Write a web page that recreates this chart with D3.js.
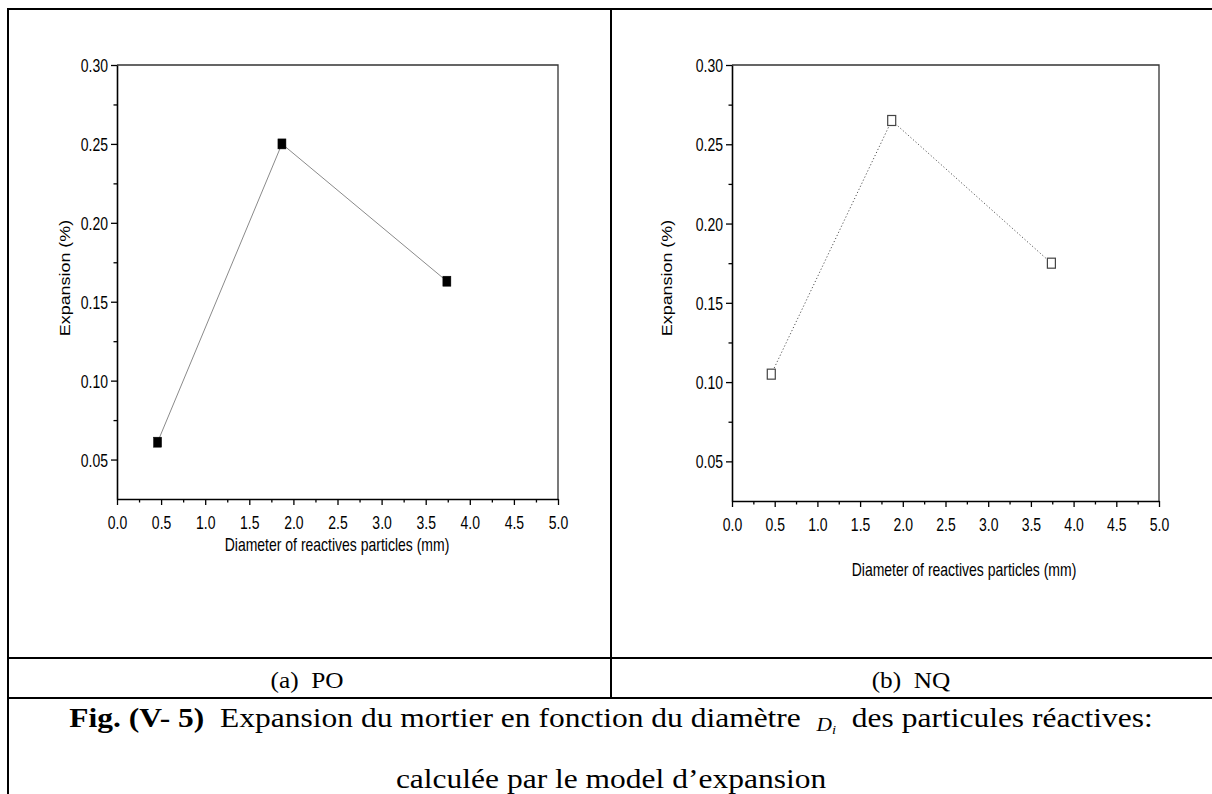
<!DOCTYPE html>
<html>
<head>
<meta charset="utf-8">
<script src="https://cdn.jsdelivr.net/npm/d3@7"></script>
<style>
  html, body { margin: 0; padding: 0; background: #fff; }
  svg { display: block; }
  text { white-space: pre; }
</style>
</head>
<body>
<svg id="fig" width="1212" height="794"></svg>
<script>
// Particle diameter (mm) and computed mortar expansion (%)
const diameters = [0.46, 1.87, 3.74];
const expansionPO = [0.061, 0.250, 0.163];
const expansionNQ = [0.105, 0.265, 0.175];

// Axis settings and tick labels
const xDomain = [0, 5];
const yDomain = [0.025, 0.30];
const xTickValues = [0.0, 0.5, 1.0, 1.5, 2.0, 2.5, 3.0, 3.5, 4.0, 4.5, 5.0];
const xMinorTicks = [0.25, 0.75, 1.25, 1.75, 2.25, 2.75, 3.25, 3.75, 4.25, 4.75];
const yTickValues = [0.05, 0.10, 0.15, 0.20, 0.25, 0.30];
const yMinorTicks = [0.075, 0.125, 0.175, 0.225, 0.275];
const xAxisTitle = "Diameter of reactives particles (mm)";
const yAxisTitle = "Expansion (%)";
const panelLabels = ["(a)  PO", "(b)  NQ"];
const captionBold = "Fig. (V- 5)";
const captionText = "  Expansion du mortier en fonction du diamètre  ";
const captionTail = "  des particules réactives:";
const captionLine2 = "calculée par le model d\u2019expansion";

const svg = d3.select("#fig");
const SANS = "'Liberation Sans', Arial, sans-serif";
const SERIF = "'Liberation Serif', 'Times New Roman', serif";
const STRETCH = 1.28;   // plot lettering is drawn slightly tall
const CAP_WIDEN = 1.125;

// Table frame
const frame = svg.append("g").attr("stroke", "#000").attr("stroke-width", 2).attr("fill", "none");
frame.append("line").attr("x1", 7).attr("x2", 1212).attr("y1", 9).attr("y2", 9);
frame.append("line").attr("x1", 8).attr("x2", 8).attr("y1", 8).attr("y2", 794);
frame.append("line").attr("x1", 611).attr("x2", 611).attr("y1", 9).attr("y2", 698);
frame.append("line").attr("x1", 8).attr("x2", 1212).attr("y1", 658).attr("y2", 658);
frame.append("line").attr("x1", 8).attr("x2", 1212).attr("y1", 698).attr("y2", 698);

function stretchedText(g, x, y, str, rotate) {
  const t = rotate
    ? `translate(${x},${y}) rotate(-90) scale(${STRETCH},1)`
    : `translate(${x},${y}) scale(1,${STRETCH})`;
  return g.append("text")
    .attr("transform", t)
    .attr("dy", "0.36em")
    .attr("text-anchor", "middle")
    .attr("font-family", SANS)
    .attr("font-size", 14)
    .attr("fill", "#000")
    .text(str);
}

const panels = [
  { values: expansionPO, box: { left: 117, right: 558, top: 65, bottom: 499 },
    xTitle: [337, 545], yTitle: [65, 278], filled: true, dash: null, lineColor: "#8a8a8a" },
  { values: expansionNQ, box: { left: 732, right: 1159, top: 65, bottom: 501 },
    xTitle: [964, 570], yTitle: [667, 278], filled: false, dash: "1.2,2.2", lineColor: "#555" }
];

panels.forEach(p => {
  const b = p.box;
  const x = d3.scaleLinear().domain(xDomain).range([b.left, b.right]);
  const y = d3.scaleLinear().domain(yDomain).range([b.bottom, b.top]);
  const g = svg.append("g");

  // top and right frame edges
  g.append("path")
    .attr("d", `M${b.left},${b.top}H${b.right}V${b.bottom}`)
    .attr("fill", "none").attr("stroke", "#333").attr("stroke-width", 1.3);

  // minor ticks
  g.append("g").attr("transform", `translate(0,${b.bottom})`)
    .call(d3.axisBottom(x).tickValues(xMinorTicks).tickSize(3.5).tickFormat(""))
    .call(a => a.select(".domain").remove());
  g.append("g").attr("transform", `translate(${b.left},0)`)
    .call(d3.axisLeft(y).tickValues(yMinorTicks).tickSize(3.5).tickFormat(""))
    .call(a => a.select(".domain").remove());

  // major ticks and labels
  const xa = g.append("g").attr("transform", `translate(0,${b.bottom})`)
    .call(d3.axisBottom(x).tickValues(xTickValues).tickSize(6).tickSizeOuter(0).tickFormat(d3.format(".1f")));
  xa.selectAll(".tick text")
    .attr("y", null).attr("dy", "0.36em")
    .attr("transform", `translate(0,24) scale(1,${STRETCH})`);
  const ya = g.append("g").attr("transform", `translate(${b.left},0)`)
    .call(d3.axisLeft(y).tickValues(yTickValues).tickSize(6).tickSizeOuter(0).tickFormat(d3.format(".2f")));
  ya.selectAll(".tick text")
    .attr("x", -9).attr("dy", "0.36em")
    .attr("transform", `scale(1,${STRETCH})`);

  g.selectAll(".domain").attr("stroke-width", 1.6).attr("stroke", "#000");
  g.selectAll(".tick line").attr("stroke-width", 1.3).attr("stroke", "#000");
  g.selectAll(".tick text").attr("font-family", SANS).attr("font-size", 14).attr("fill", "#000");

  // axis titles
  stretchedText(g, p.xTitle[0], p.xTitle[1], xAxisTitle, false);
  stretchedText(g, p.yTitle[0], p.yTitle[1], yAxisTitle, true);

  // connecting line
  const pts = diameters.map((d, i) => [d, p.values[i]]);
  g.append("path")
    .datum(pts)
    .attr("d", d3.line().x(d => x(d[0])).y(d => y(d[1])))
    .attr("fill", "none")
    .attr("stroke", p.lineColor)
    .attr("stroke-width", 1)
    .attr("stroke-dasharray", p.dash);

  // square markers
  g.selectAll("rect.pt").data(pts).join("rect")
    .attr("class", "pt")
    .attr("x", d => x(d[0]) - 4)
    .attr("y", d => y(d[1]) - 5)
    .attr("width", 8)
    .attr("height", 10)
    .attr("fill", p.filled ? "#000" : "#fff")
    .attr("stroke", p.filled ? "#000" : "#444")
    .attr("stroke-width", p.filled ? 0.5 : 1.2);
});

// sub-figure labels
[[307, panelLabels[0]], [911, panelLabels[1]]].forEach(([cx, label]) => {
  svg.append("text")
    .attr("transform", `translate(${cx},688) scale(1.1,1)`)
    .attr("text-anchor", "middle")
    .attr("font-family", SERIF)
    .attr("font-size", 23)
    .text(label);
});

// figure caption
const cap = svg.append("text")
  .attr("transform", `translate(611,727) scale(${CAP_WIDEN},1)`)
  .attr("text-anchor", "middle")
  .attr("font-family", SERIF)
  .attr("font-size", 28);
cap.append("tspan").attr("font-weight", "bold").text(captionBold);
cap.append("tspan").text(captionText);
cap.append("tspan").attr("font-style", "italic").attr("font-size", 19).attr("dy", 4).text("D");
cap.append("tspan").attr("font-style", "italic").attr("font-size", 13).attr("dy", 3).text("i");
cap.append("tspan").attr("dy", -7).text(captionTail);

svg.append("text")
  .attr("transform", `translate(611,788) scale(${CAP_WIDEN},1)`)
  .attr("text-anchor", "middle")
  .attr("font-family", SERIF)
  .attr("font-size", 28)
  .text(captionLine2);
</script>
</body>
</html>
